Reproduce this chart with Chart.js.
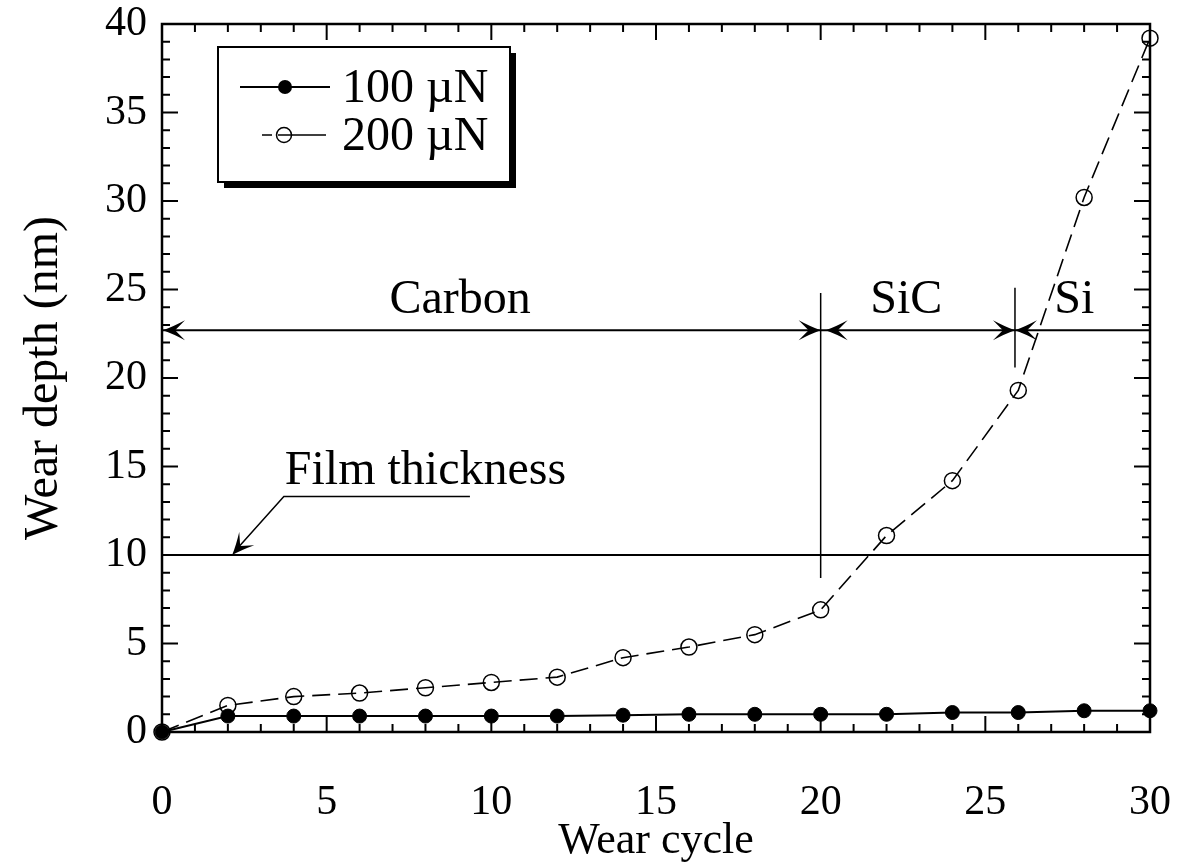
<!DOCTYPE html>
<html>
<head>
<meta charset="utf-8">
<title>Wear depth vs wear cycle</title>
<script src="https://cdn.jsdelivr.net/npm/chart.js@4/dist/chart.umd.min.js"></script>
<style>
    body { margin: 0; background: #ffffff; }
    canvas { display: block; }
</style>
</head>
<body>
<canvas id="wear" width="1187" height="863"></canvas>
<script>
"use strict";

// data
const cycles = [0, 2, 4, 6, 8, 10, 12, 14, 16, 18, 20, 22, 24, 26, 28, 30];
const depth100 = [0, 0.9, 0.9, 0.9, 0.9, 0.9, 0.9, 0.95, 1.0, 1.0, 1.0, 1.0, 1.1, 1.1, 1.2, 1.2];
const depth200 = [0, 1.5, 2.0, 2.2, 2.5, 2.8, 3.1, 4.2, 4.8, 5.5, 6.9, 11.1, 14.2, 19.3, 30.2, 39.2];
const seriesLabels = ["100 \u00B5N", "200 \u00B5N"];
const xTickValues = [0, 5, 10, 15, 20, 25, 30];
const yTickValues = [0, 5, 10, 15, 20, 25, 30, 35, 40];

// annotations (in data units)
const filmThickness = 10;
const layerY = 22.7;
const layerBounds = [0, 20, 25.9, 30];
const layerNames = ["Carbon", "SiC", "Si"];
const layerLabelX = [9.05, 22.6, 27.7];

const serif = "'Liberation Serif', 'DejaVu Serif', serif";

function toPoints(ys) {
    return cycles.map((c, i) => ({ x: c, y: ys[i] }));
}

/**
 * concave arrowhead, dir -1 points left, +1 points right
 */
function arrowHead(ctx, tipX, tipY, dir) {
    const len = 22, half = 10;
    ctx.beginPath();
    ctx.moveTo(tipX, tipY);
    ctx.quadraticCurveTo(tipX - dir * len * 0.45, tipY - half * 0.35, tipX - dir * len, tipY - half);
    ctx.lineTo(tipX - dir * len * 0.55, tipY);
    ctx.lineTo(tipX - dir * len, tipY + half);
    ctx.quadraticCurveTo(tipX - dir * len * 0.45, tipY + half * 0.35, tipX, tipY);
    ctx.closePath();
    ctx.fill();
}

const framePlugin = {
    id: "frame",
    afterDatasetsDraw(chart) {
        const ctx = chart.ctx;
        const a = chart.chartArea;
        const xs = chart.scales.x, ys = chart.scales.y;
        ctx.save();
        ctx.strokeStyle = "#000";
        ctx.fillStyle = "#000";

        // inward ticks on all four sides
        ctx.lineWidth = 2;
        for (let v = xs.min; v <= xs.max; v++) {
            const px = xs.getPixelForValue(v);
            const l = v % 5 === 0 ? 16 : 8;
            ctx.beginPath();
            ctx.moveTo(px, a.bottom); ctx.lineTo(px, a.bottom - l);
            ctx.moveTo(px, a.top); ctx.lineTo(px, a.top + l);
            ctx.stroke();
        }
        for (let v = ys.min; v <= ys.max; v++) {
            const py = ys.getPixelForValue(v);
            const l = v % 5 === 0 ? 16 : 8;
            ctx.beginPath();
            ctx.moveTo(a.left, py); ctx.lineTo(a.left + l, py);
            ctx.moveTo(a.right, py); ctx.lineTo(a.right - l, py);
            ctx.stroke();
        }
        ctx.lineWidth = 2.5;
        ctx.strokeRect(a.left, a.top, a.right - a.left, a.bottom - a.top);

        // film thickness line
        ctx.lineWidth = 2;
        const fy = ys.getPixelForValue(filmThickness);
        ctx.beginPath();
        ctx.moveTo(a.left, fy); ctx.lineTo(a.right, fy);
        ctx.stroke();

        // film thickness leader
        ctx.lineWidth = 1.5;
        ctx.beginPath();
        ctx.moveTo(xs.getPixelForValue(9.35), ys.getPixelForValue(13.3));
        ctx.lineTo(xs.getPixelForValue(3.7), ys.getPixelForValue(13.3));
        ctx.lineTo(xs.getPixelForValue(2.3), ys.getPixelForValue(10.4));
        ctx.stroke();
        const tipX = xs.getPixelForValue(2.13), tipY = fy;
        const ang = Math.atan2(ys.getPixelForValue(13.3) - tipY, xs.getPixelForValue(3.7) - tipX);
        ctx.save();
        ctx.translate(tipX, tipY);
        ctx.rotate(ang + Math.PI);
        arrowHead(ctx, 0, 0, 1);
        ctx.restore();

        ctx.font = "48px " + serif;
        ctx.textAlign = "center";
        ctx.textBaseline = "middle";
        ctx.fillText("Film thickness", xs.getPixelForValue(8.0), ys.getPixelForValue(14.7));

        // layer boundaries
        ctx.lineWidth = 1.5;
        ctx.beginPath();
        ctx.moveTo(xs.getPixelForValue(20), ys.getPixelForValue(24.8));
        ctx.lineTo(xs.getPixelForValue(20), ys.getPixelForValue(8.7));
        ctx.moveTo(xs.getPixelForValue(25.9), ys.getPixelForValue(25.1));
        ctx.lineTo(xs.getPixelForValue(25.9), ys.getPixelForValue(20.6));
        ctx.stroke();

        // layer arrows
        const ly = ys.getPixelForValue(layerY);
        ctx.lineWidth = 2;
        ctx.beginPath();
        ctx.moveTo(a.left, ly); ctx.lineTo(a.right, ly);
        ctx.stroke();
        const b = layerBounds.map(v => xs.getPixelForValue(v));
        arrowHead(ctx, b[0] + 1, ly, -1);
        arrowHead(ctx, b[1], ly, 1);
        arrowHead(ctx, b[1] + 5, ly, -1);
        arrowHead(ctx, b[2], ly, 1);
        arrowHead(ctx, b[2], ly, -1);

        ctx.font = "48px " + serif;
        layerNames.forEach((name, i) => {
            ctx.fillText(name, xs.getPixelForValue(layerLabelX[i]), ys.getPixelForValue(24.4));
        });
        ctx.restore();
    },
    afterDraw(chart) {
        // boxed legend with drop shadow
        const ctx = chart.ctx;
        const ds = chart.data.datasets;
        const bx = 218, by = 47, bw = 292, bh = 135;
        ctx.save();
        ctx.fillStyle = "#000";
        ctx.fillRect(bx + 6, by + 6, bw, bh);
        ctx.fillStyle = "#fff";
        ctx.fillRect(bx, by, bw, bh);
        ctx.strokeStyle = "#000";
        ctx.lineWidth = 2;
        ctx.strokeRect(bx, by, bw, bh);

        const rows = [87, 135];
        ctx.fillStyle = "#000";
        // solid entry
        ctx.beginPath();
        ctx.moveTo(240, rows[0]); ctx.lineTo(330, rows[0]);
        ctx.stroke();
        ctx.beginPath();
        ctx.arc(285, rows[0], 7, 0, Math.PI * 2);
        ctx.fill();
        // dashed entry
        ctx.lineWidth = 1.5;
        ctx.beginPath();
        ctx.moveTo(262, rows[1]); ctx.lineTo(272, rows[1]);
        ctx.moveTo(278, rows[1]); ctx.lineTo(326, rows[1]);
        ctx.stroke();
        ctx.beginPath();
        ctx.arc(284, rows[1], 7.5, 0, Math.PI * 2);
        ctx.stroke();

        ctx.font = "48px " + serif;
        ctx.textAlign = "left";
        ctx.textBaseline = "middle";
        ctx.fillText(ds[0].label, 342, rows[0] + 2);
        ctx.fillText(ds[1].label, 342, rows[1] + 2);
        ctx.restore();
    }
};

window.onload = () => {
    const canvas = document.getElementById("wear");
    new Chart(canvas, {
        type: "line",
        data: {
            datasets: [{
                label: seriesLabels[0],
                data: toPoints(depth100),
                borderColor: "#000",
                backgroundColor: "#000",
                borderWidth: 2,
                pointRadius: 7,
                pointBorderWidth: 1,
                pointBackgroundColor: "#000",
                clip: false,
                tension: 0
            }, {
                label: seriesLabels[1],
                data: toPoints(depth200),
                borderColor: "#000",
                backgroundColor: "rgba(0,0,0,0)",
                borderWidth: 1.6,
                borderDash: [18, 8],
                pointRadius: 8,
                pointBorderWidth: 1.5,
                pointBackgroundColor: "rgba(0,0,0,0)",
                clip: false,
                tension: 0
            }]
        },
        options: {
            responsive: false,
            animation: false,
            devicePixelRatio: 1,
            layout: { padding: { left: 0, top: 24, right: 37, bottom: 0 } },
            plugins: {
                legend: { display: false },
                tooltip: { enabled: false }
            },
            scales: {
                x: {
                    type: "linear",
                    min: 0,
                    max: 30,
                    afterBuildTicks: scale => { scale.ticks = xTickValues.map(v => ({ value: v })); },
                    afterFit: scale => {
                        scale.height = 131;
                        scale.paddingLeft = 0;
                        scale.paddingRight = 0;
                    },
                    grid: { display: false, drawTicks: false },
                    border: { display: false },
                    ticks: {
                        color: "#000",
                        padding: 46,
                        maxRotation: 0,
                        font: { family: serif, size: 42 }
                    },
                    title: {
                        display: true,
                        text: "Wear cycle",
                        color: "#000",
                        padding: { top: 0, bottom: 0 },
                        font: { family: serif, size: 44, lineHeight: 1.0 }
                    }
                },
                y: {
                    min: 0,
                    max: 40,
                    afterBuildTicks: scale => { scale.ticks = yTickValues.map(v => ({ value: v })); },
                    afterFit: scale => {
                        scale.width = 162;
                        scale.paddingTop = 0;
                        scale.paddingBottom = 0;
                    },
                    grid: { display: false, drawTicks: false },
                    border: { display: false },
                    ticks: {
                        color: "#000",
                        padding: 15,
                        font: { family: serif, size: 42 }
                    },
                    title: {
                        display: true,
                        text: "Wear depth (nm)",
                        color: "#000",
                        padding: { top: 16, bottom: 0 },
                        font: { family: serif, size: 48 }
                    }
                }
            }
        },
        plugins: [framePlugin]
    });
}
</script>
</body>
</html>
